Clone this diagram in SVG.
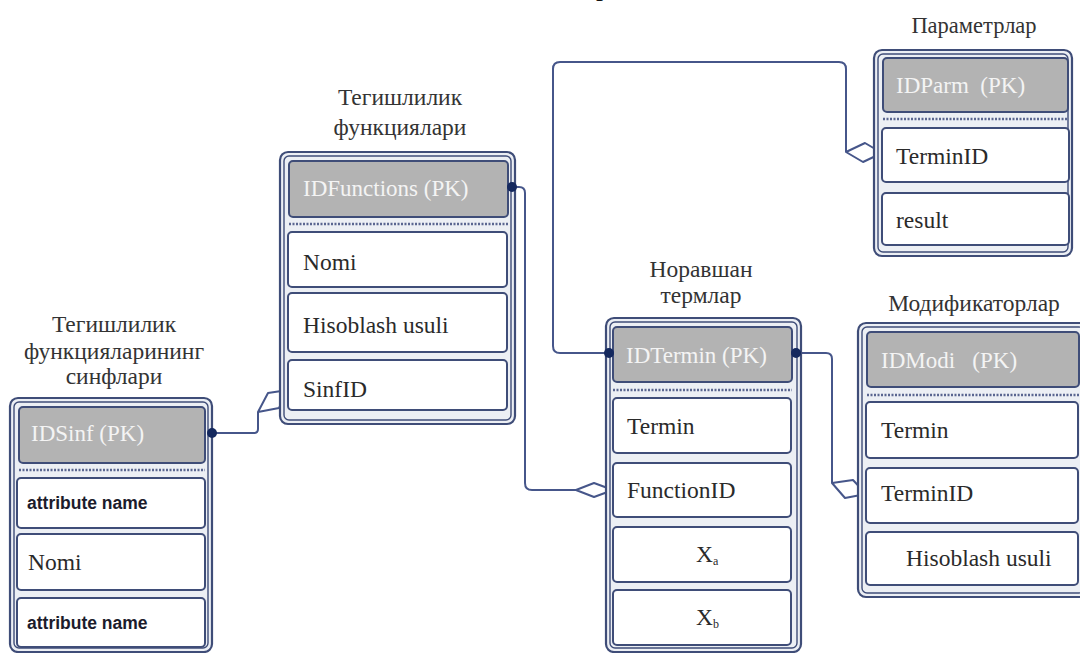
<svg xmlns="http://www.w3.org/2000/svg" width="1080" height="653" viewBox="0 0 1080 653">
<style>
.title{font-family:"Liberation Serif","DejaVu Serif",serif;font-size:23.5px;fill:#333;text-anchor:middle}
.outer{fill:#eceff4;stroke:#3f4d78;stroke-width:2.2}
.inner{fill:none;stroke:#3f4d78;stroke-width:1.4}
.hdr{fill:#b3b3b3;stroke:#3f4d78;stroke-width:2}
.row{fill:#fff;stroke:#3f4d78;stroke-width:2}
.dash{stroke:#5a6690;stroke-width:2.5;stroke-dasharray:2 1.5}
.ht{font-family:"Liberation Serif","DejaVu Serif",serif;font-size:23px;fill:#f4f4f4}
.rt{font-family:"Liberation Serif","DejaVu Serif",serif;font-size:23.5px;fill:#2a2a2a}
.st{font-family:"Liberation Sans","DejaVu Sans",sans-serif;font-size:17.5px;font-weight:bold;fill:#1c1c2c}
.conn{fill:none;stroke:#46568a;stroke-width:2;stroke-linejoin:round}
.dia{fill:#fff;stroke:#46568a;stroke-width:2;stroke-linejoin:round}
.dot{fill:#14285e}
</style>

<text x="596" y="-5" font-family="Liberation Serif, serif" font-size="28" fill="#111">р</text>

<g id="connectors">
  <path class="conn" d="M212,433 H254 Q258,433 258,429 V412"/>
  <polygon class="dia" points="258,412 268,393 288,390 279,408"/>
  <path class="conn" d="M512,187 H519 Q525,187 525,193 V483 Q525,490 532,490 H576"/>
  <polygon class="dia" points="576,490 594,483 613,490 594,497"/>
  <path class="conn" d="M609,353 H560 Q553,353 553,346 V69 Q553,62 560,62 H839 Q846,62 846,69 V152"/>
  <polygon class="dia" points="846,152 865,143 882,153 863,162"/>
  <path class="conn" d="M796,353 H826 Q832,353 832,359 V483"/>
  <polygon class="dia" points="832,483 853,480 866,494 845,498"/>
</g>

<g id="sinf">
  <text class="title" x="114" y="332">Тегишлилик</text>
  <text class="title" x="114" y="359">функцияларининг</text>
  <text class="title" x="114" y="384">синфлари</text>
  <rect class="outer" x="10" y="398" width="202" height="254" rx="8"/>
  <rect class="inner" x="14" y="402" width="194" height="246" rx="5"/>
  <rect class="hdr" x="19" y="407" width="186" height="56" rx="4"/>
  <text class="ht" x="31" y="441">IDSinf (PK)</text>
  <line class="dash" x1="19" y1="470" x2="205" y2="470"/>
  <rect class="row" x="17" y="478" width="188" height="50" rx="4"/>
  <text class="st" x="27" y="509">attribute name</text>
  <rect class="row" x="17" y="534" width="188" height="56" rx="4"/>
  <text class="rt" x="28" y="570">Nomi</text>
  <rect class="row" x="17" y="598" width="188" height="49" rx="4"/>
  <text class="st" x="27" y="629">attribute name</text>
  <circle class="dot" cx="212" cy="433" r="5"/>
</g>

<g id="functions">
  <text class="title" x="400" y="105">Тегишлилик</text>
  <text class="title" x="400" y="135">функциялари</text>
  <rect class="outer" x="280" y="152" width="235" height="272" rx="8"/>
  <rect class="inner" x="284" y="156" width="227" height="264" rx="5"/>
  <rect class="hdr" x="289" y="161" width="219" height="56" rx="4"/>
  <text class="ht" x="303" y="196">IDFunctions (PK)</text>
  <line class="dash" x1="289" y1="224" x2="508" y2="224"/>
  <rect class="row" x="288" y="232" width="219" height="55" rx="4"/>
  <text class="rt" x="303" y="270">Nomi</text>
  <rect class="row" x="288" y="293" width="219" height="59" rx="4"/>
  <text class="rt" x="303" y="333">Hisoblash usuli</text>
  <rect class="row" x="288" y="360" width="219" height="50" rx="4"/>
  <text class="rt" x="303" y="397">SinfID</text>
  <circle class="dot" cx="512" cy="187" r="5"/>
</g>

<g id="termin">
  <text class="title" x="701" y="277">Норавшан</text>
  <text class="title" x="701" y="303">термлар</text>
  <rect class="outer" x="606" y="318" width="195" height="334" rx="8"/>
  <rect class="inner" x="610" y="322" width="187" height="326" rx="5"/>
  <rect class="hdr" x="613" y="327" width="179" height="55" rx="4"/>
  <text class="ht" x="626" y="363">IDTermin (PK)</text>
  <line class="dash" x1="613" y1="390" x2="792" y2="390"/>
  <rect class="row" x="613" y="398" width="178" height="55" rx="4"/>
  <text class="rt" x="627" y="434">Termin</text>
  <rect class="row" x="613" y="463" width="178" height="54" rx="4"/>
  <text class="rt" x="627" y="498">FunctionID</text>
  <rect class="row" x="613" y="527" width="178" height="55" rx="4"/>
  <text class="rt" x="696" y="562">X<tspan font-size="12" dy="3">a</tspan></text>
  <rect class="row" x="613" y="590" width="178" height="55" rx="4"/>
  <text class="rt" x="696" y="625">X<tspan font-size="12" dy="3">b</tspan></text>
  <circle class="dot" cx="609" cy="353" r="5"/>
  <circle class="dot" cx="796" cy="353" r="5"/>
</g>

<g id="modifikator">
  <text class="title" x="974" y="311">Модификаторлар</text>
  <rect class="outer" x="858" y="323" width="230" height="274" rx="8"/>
  <rect class="inner" x="862" y="327" width="222" height="266" rx="5"/>
  <rect class="hdr" x="867" y="332" width="212" height="55" rx="4"/>
  <text class="ht" x="881" y="368" xml:space="preserve">IDModi   (PK)</text>
  <line class="dash" x1="867" y1="395" x2="1080" y2="395"/>
  <rect class="row" x="866" y="402" width="212" height="56" rx="4"/>
  <text class="rt" x="881" y="438">Termin</text>
  <rect class="row" x="866" y="468" width="212" height="55" rx="4"/>
  <text class="rt" x="881" y="501">TerminID</text>
  <rect class="row" x="866" y="532" width="212" height="53" rx="4"/>
  <text class="rt" x="906" y="566">Hisoblash usuli</text>
</g>

<g id="parametr">
  <text class="title" x="974" y="33" style="font-size:22.5px">Параметрлар</text>
  <rect class="outer" x="874" y="50" width="198" height="206" rx="8"/>
  <rect class="inner" x="878" y="54" width="190" height="198" rx="5"/>
  <rect class="hdr" x="883" y="58" width="185" height="54" rx="4"/>
  <text class="ht" x="896" y="93" xml:space="preserve">IDParm  (PK)</text>
  <line class="dash" x1="883" y1="119" x2="1068" y2="119"/>
  <rect class="row" x="882" y="128" width="187" height="54" rx="4"/>
  <text class="rt" x="896" y="164">TerminID</text>
  <rect class="row" x="882" y="193" width="187" height="52" rx="4"/>
  <text class="rt" x="896" y="228">result</text>
</g>
</svg>
